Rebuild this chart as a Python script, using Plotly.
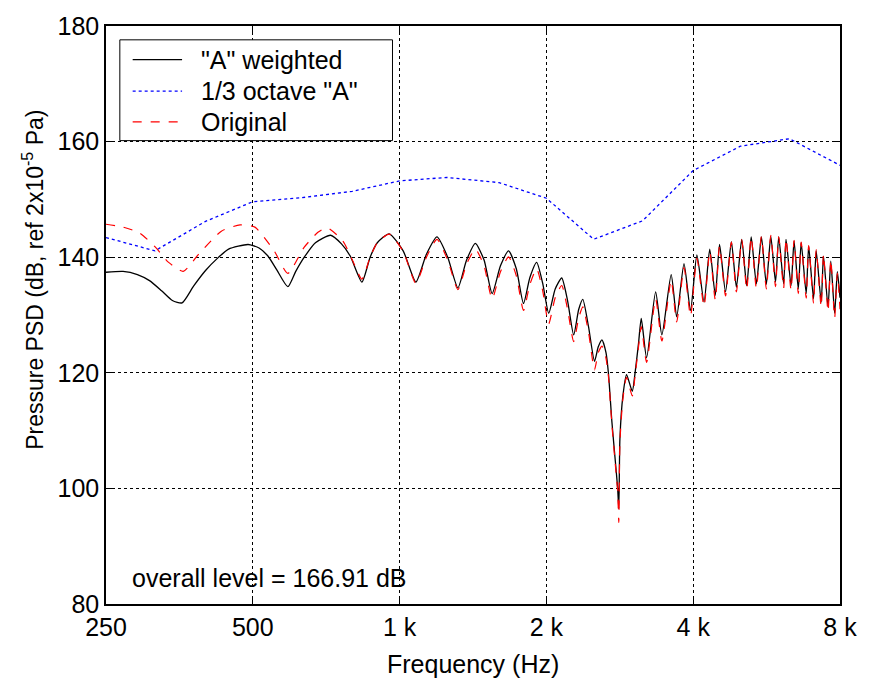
import plotly.graph_objects as go

# "A" weighted (black)
a_freq = [250, 271, 290, 307, 325, 342, 358, 378, 400, 423, 446, 489, 515, 537, 560, 590, 612, 637, 672, 722,
          760, 792, 837, 870, 900, 952, 1017, 1080, 1135, 1193, 1255, 1317, 1372, 1430, 1490, 1548, 1610, 1673,
          1735, 1795, 1850, 1910, 1965, 2022, 2085, 2150, 2210, 2275, 2330, 2375, 2440, 2510, 2555, 2600, 2650,
          2680, 2725, 2770, 2800, 2815, 2830, 2870, 2920, 3000, 3040, 3090,
          3130, 3210, 3350, 3450, 3605, 3700, 3830, 3950, 4070, 4210, 4325, 4440, 4530, 4660, 4790, 4905,
          5030, 5150, 5260, 5390, 5520, 5650, 5770, 5900, 5990, 6130, 6200, 6350, 6440, 6570, 6660, 6820,
          6900, 7060, 7150, 7320, 7400, 7560, 7660, 7800, 7900, 8000]
a_vals = [137.4, 137.55, 137.0, 135.95, 134.2, 132.5, 132.1, 135.0, 137.7, 139.8, 141.4, 142.2, 141.6, 140.2, 137.8, 134.9, 137.5, 139.95, 142.5, 143.8,
          142.3, 140.2, 135.7, 140.0, 142.5, 144.05, 141.1, 135.7, 140.5, 143.5, 140.0, 134.7, 139.5, 142.4, 139.5, 133.7, 138.5, 141.1,
          138.0, 132.0, 136.5, 139.1, 135.5, 130.3, 134.5, 136.4, 132.5, 126.55, 131.0, 132.7, 128.0, 122.0, 124.5, 125.7, 123.5,
          120.0, 111.5, 104.6, 100.0, 96.5, 108.6, 116.0, 119.7, 116.8, 120.0, 125.1,
          129.4, 122.6, 134.0, 126.55, 137.0, 129.7, 138.9, 130.8, 140.4, 132.25, 141.4, 133.4, 142.2, 134.0, 142.7, 134.8,
          143.1, 135.1, 143.5, 135.4, 143.5, 135.3, 143.6, 135.7, 143.5, 135.4, 143.1, 135.1, 142.8, 134.5, 142.5, 133.7,
          141.9, 132.8, 141.1, 132.25, 140.2, 131.4, 139.3, 130.3, 137.5, 133.0]

# 1/3 octave "A" (blue dotted)
b_freq = [250, 315, 400, 500, 630, 800, 1000, 1250, 1600, 2000, 2500, 3150, 4000, 5000, 6300, 8000]
b_vals = [143.4, 141.1, 146.2, 149.6, 150.3, 151.4, 153.2, 153.8, 152.9, 150.2, 143.1, 146.3, 155.0, 159.2, 160.5, 155.9]

# Original (red dashed)
o_freq = [250, 271, 293, 316, 336, 360, 387, 431, 471, 505, 553, 590, 637, 680, 710, 765, 800, 837,
          870, 900, 952, 1017, 1080, 1135, 1193, 1255, 1317, 1372, 1430, 1490, 1548, 1610, 1673,
          1735, 1795, 1850, 1910, 1965, 2022, 2085, 2150, 2210, 2275, 2330, 2375, 2440, 2510, 2555, 2600, 2650,
          2680, 2725, 2770, 2800, 2815, 2830, 2870, 2920, 3000, 3040, 3090,
          3130, 3210, 3350, 3450, 3605, 3700, 3830, 3950, 4070, 4210, 4325, 4440, 4530, 4660, 4790, 4905,
          5030, 5150, 5260, 5390, 5520, 5650, 5770, 5900, 5990, 6130, 6200, 6350, 6440, 6570, 6660, 6820,
          6900, 7060, 7150, 7320, 7400, 7560, 7660, 7800, 7900, 8000]
o_vals = [145.7, 145.2, 144.2, 141.7, 139.1, 137.55, 140.5, 144.5, 145.6, 145.2, 141.1, 137.2, 141.7, 144.3, 145.1, 142.8, 139.5, 136.2,
          140.0, 142.5, 144.0, 141.0, 135.5, 140.0, 143.1, 139.5, 134.4, 138.8, 141.4, 138.5, 132.8, 137.5, 140.05,
          136.8, 130.8, 135.3, 138.0, 134.2, 128.5, 133.0, 135.1, 131.0, 125.4, 129.5, 131.4, 127.0, 120.5, 123.5, 124.6, 122.5,
          119.5, 111.0, 104.0, 99.5, 94.1, 108.0, 115.5, 119.2, 116.0, 119.5, 124.5,
          128.0, 121.8, 132.8, 125.5, 136.0, 128.8, 138.2, 129.8, 139.8, 131.5, 141.0, 132.6, 141.9, 133.3, 142.6, 134.0,
          143.0, 134.4, 143.5, 134.6, 143.6, 134.5, 143.8, 134.9, 143.5, 134.6, 143.2, 134.3, 142.9, 133.7, 142.6, 132.9,
          142.0, 132.0, 141.3, 131.4, 140.5, 130.6, 139.6, 129.5, 137.2, 131.0]

series_names = ['"A" weighted', '1/3 octave "A"', "Original"]
x_tickvals = [250, 500, 1000, 2000, 4000, 8000]
x_ticktext = ["250", "500", "1 k", "2 k", "4 k", "8 k"]
y_tickvals = [80, 100, 120, 140, 160, 180]

FONT = "Liberation Sans, Arial, sans-serif"
L, T, W, H = 106, 19, 743, 585  # plot area in pixels


def px(x):
    return (x - L) / W


def py(y):
    return (T + H - y) / H


styles = [dict(color="black", width=1.3, dash="solid"),
          dict(color="#0000FF", width=1.3, dash="dot"),
          dict(color="#FF0000", width=1.3, dash="dash")]

fig = go.Figure()
fig.add_trace(go.Scatter(x=a_freq, y=a_vals, mode="lines", name=series_names[0],
                         line=dict(color="black", width=1.3, shape="spline", smoothing=0.6)))
fig.add_trace(go.Scatter(x=b_freq, y=b_vals, mode="lines", name=series_names[1],
                         line=dict(color="#0000FF", width=1.3, dash="dot")))
fig.add_trace(go.Scatter(x=o_freq, y=o_vals, mode="lines", name=series_names[2],
                         line=dict(color="#FF0000", width=1.2, dash="dash", shape="spline", smoothing=0.6)))

axis_common = dict(showline=True, linecolor="black", linewidth=1.5, mirror="ticks",
                   ticks="inside", ticklen=7, tickcolor="black", tickwidth=1,
                   showgrid=True, gridcolor="black", gridwidth=1, griddash="dot",
                   zeroline=False, tickfont=dict(family=FONT, size=25, color="black"))

fig.update_xaxes(type="log", range=[2.39794, 3.90309], tickvals=x_tickvals, ticktext=x_ticktext, **axis_common)
fig.update_yaxes(range=[80, 180], tickvals=y_tickvals, **axis_common)

# manual legend (box, samples, labels)
shapes = [dict(type="rect", xref="paper", yref="paper", layer="above",
               x0=px(120), x1=px(396), y0=py(135), y1=py(33),
               line=dict(color="black", width=1), fillcolor="white")]
annotations = []
row_y = [53, 85, 116]
for name, st, ry in zip(series_names, styles, row_y):
    shapes.append(dict(type="line", xref="paper", yref="paper", layer="above",
                       x0=px(133), x1=px(183), y0=py(ry), y1=py(ry), line=st))
    annotations.append(dict(text=name, x=px(200), y=py(ry), xref="paper", yref="paper",
                            xanchor="left", yanchor="middle", showarrow=False,
                            font=dict(family=FONT, size=25, color="black")))

annotations += [
    dict(text="Frequency (Hz)", x=0.5, y=py(665), xref="paper", yref="paper",
         xanchor="center", yanchor="middle", showarrow=False,
         font=dict(family=FONT, size=25, color="black")),
    dict(text="Pressure PSD (dB, ref 2x10<sup>-5</sup> Pa)", x=px(32), y=py(276),
         xref="paper", yref="paper", xanchor="center", yanchor="middle",
         textangle=-90, showarrow=False,
         font=dict(family=FONT, size=23, color="black")),
    dict(text="overall level = 166.91 dB", x=px(130), y=py(578), xref="paper", yref="paper",
         xanchor="left", yanchor="middle", showarrow=False,
         font=dict(family=FONT, size=25, color="black")),
]

fig.update_layout(
    width=869, height=682,
    margin=dict(l=L, r=869 - L - W, t=T, b=682 - T - H),
    paper_bgcolor="white", plot_bgcolor="white",
    font=dict(family=FONT, size=25, color="black"),
    showlegend=False,
    shapes=shapes,
    annotations=annotations,
)

fig.write_html("out.html", config={"displayModeBar": False},
               post_script="document.body.style.margin='0';")
